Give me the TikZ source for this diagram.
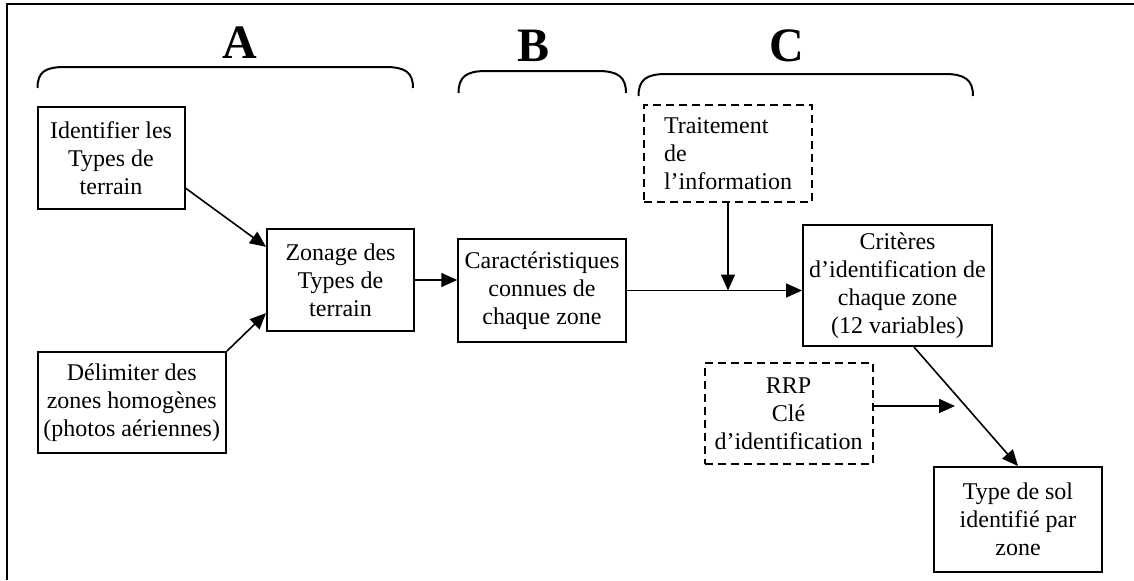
\documentclass[tikz,border=0pt]{standalone}
\usepackage{fontspec}
\setmainfont{Liberation Serif}
\usetikzlibrary{arrows.meta}

\begin{document}
\begin{tikzpicture}[x=0.5pt, y=-0.5pt,
        every node/.style={font=\fontsize{12}{14}\selectfont},
        box/.style={rectangle, draw, line width=1pt, align=center, inner sep=2pt},
        dbox/.style={box, dashed, dash pattern=on 4pt off 2.5pt},
        link/.style={line width=0.8pt, -{Triangle[length=8pt, width=7pt]}},
        phase/.style={line width=1pt},
        phaselabel/.style={font=\fontsize{24}{28}\selectfont\bfseries}]
        \useasboundingbox (0,0) rectangle (1134,580);
        % Frame
            \draw[line width=1.2pt] (7,580) -- (7,4) -- (1134,4);
        % Phases A, B, C
            \node[phaselabel] (labA) at (239.5,43) {A};
            \node[phaselabel] (labB) at (533,46)   {B};
            \node[phaselabel] (labC) at (787,46)   {C};
            \draw[phase] (37.5,88) .. controls (37.5,72) and (45,67) .. (65,67) -- (385,67) .. controls (405,67) and (413,72) .. (413,88);
            \draw[phase] (458.5,93) .. controls (458.5,77) and (466,71) .. (486,71) -- (598,71) .. controls (618,71) and (626,77) .. (626,93);
            \draw[phase] (638.5,96) .. controls (638.5,80) and (646,74) .. (666,74) -- (945,74) .. controls (965,74) and (973,80) .. (973,96);
        % Boxes
            \node[box, minimum width=73.5pt, minimum height=51pt]   (ident)  at (111,158)     {Identifier les\\Types de\\terrain};
            \node[box, minimum width=94.25pt, minimum height=50.5pt] (delim) at (131.75,402.5) {Délimiter des\\zones homogènes\\(photos aériennes)};
            \node[box, minimum width=73.5pt, minimum height=51pt]   (zonage) at (340.5,280)   {Zonage des\\Types de\\terrain};
            \node[box, minimum width=83.75pt, minimum height=51.5pt] (caract) at (542,290.5)   {Caractéristiques\\connues de\\chaque zone};
            \node[dbox, align=left, minimum width=84pt, minimum height=48.5pt] (trait) at (728,153.5) {Traitement\\de\\l’information};
            \node[box, minimum width=94.5pt, minimum height=60.5pt] (crit)   at (897.5,285.5) {Critères\\d’identification de\\chaque zone\\(12 variables)};
            \node[dbox, minimum width=84pt, minimum height=50.5pt]  (rrp)    at (788.5,413.5) {RRP\\Clé\\d’identification};
            \node[box, minimum width=84pt, minimum height=52.5pt]   (type)   at (1018,519.5)  {Type de sol\\identifié par\\zone};
        % Arrows
            \draw[link] (ident.-22) -- (zonage.156);
            \draw[link] (delim.north east) -- (zonage.204);
            \draw[link] (zonage.east) -- (zonage.east -| caract.west);
            \draw[link] (caract) -- (caract -| crit.west);
            \coordinate (join) at (trait.south |- caract.east);
            \draw[link] (trait) -- (join);
            \coordinate (rrpend) at (955,406);
            \draw[link] (rrp.east |- rrpend) -- (rrpend);
            \draw[link] (crit.-75) -- (type.north);
\end{tikzpicture}
\end{document}
